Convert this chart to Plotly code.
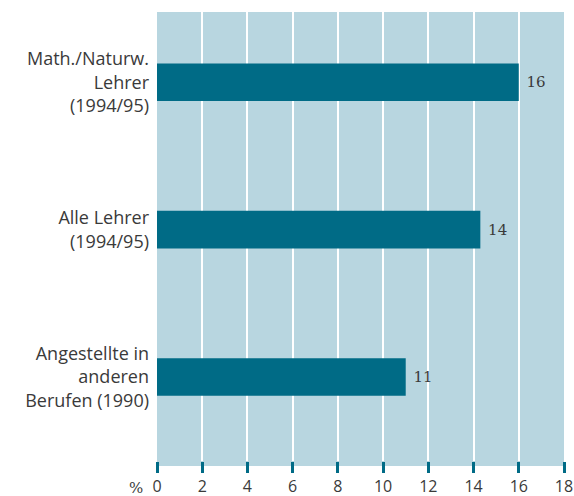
import plotly.graph_objects as go

categories = ["Math./Naturw.<br>Lehrer<br>(1994/95)", "Alle Lehrer<br>(1994/95)", "Angestellte in<br>anderen<br>Berufen (1990)"]
values = [16.0, 14.3, 11.0]
value_labels = ["16", "14", "11"]
x_ticks = [0, 2, 4, 6, 8, 10, 12, 14, 16, 18]

TEAL = "#006b86"
BG = "#b8d6e0"
TXT = "#3a3a3a"

fig = go.Figure(go.Bar(
    x=values, y=categories, orientation="h",
    marker=dict(color=TEAL, line=dict(width=0)),
    width=0.255,
    text=value_labels, texttemplate=" %{text}", textposition="outside",
    textfont=dict(family="DejaVu Serif", size=15, color=TXT),
    cliponaxis=False,
))

fig.update_layout(
    width=574, height=496,
    margin=dict(l=157, r=10, t=12, b=35, autoexpand=False),
    paper_bgcolor="white", plot_bgcolor=BG,
    showlegend=False,
    bargap=0.7,
    xaxis=dict(
        range=[0, 18], tickvals=x_ticks, ticktext=[str(v) for v in x_ticks],
        showgrid=True, gridcolor="white", gridwidth=2,
        zeroline=False, showline=False, automargin=False,
        ticks="outside", ticklen=11, tickwidth=3, tickcolor=TEAL,
        tickfont=dict(family="Open Sans", size=16, color=TXT),
        ticklabelstandoff=0, ticklabeloverflow="allow",
    ),
    yaxis=dict(
        range=[2.57, -0.477], showgrid=False, zeroline=False, showline=False,
        automargin=False,
        ticks="", tickfont=dict(family="Open Sans", size=18, color=TXT),
        ticklabelstandoff=7,
    ),
    shapes=[dict(type="rect", xref="paper", yref="paper", x0=0, x1=1,
                 y0=-0.0111, y1=0, fillcolor=BG, line=dict(width=0), layer="below")],
    annotations=[dict(text="%", xref="paper", yref="paper", x=-0.03, y=-0.06,
                      xanchor="right", yanchor="middle", showarrow=False,
                      font=dict(family="DejaVu Serif", size=15, color=TXT))],
)

fig.write_html("out.html", config={"displayModeBar": False})

# remove the default page margin so the figure sits at the window's top-left corner
with open("out.html", encoding="utf-8") as f:
    html = f.read()
html = html.replace("<head>", "<head><style>html,body{margin:0;padding:0;overflow:hidden;}</style>", 1)
with open("out.html", "w", encoding="utf-8") as f:
    f.write(html)
